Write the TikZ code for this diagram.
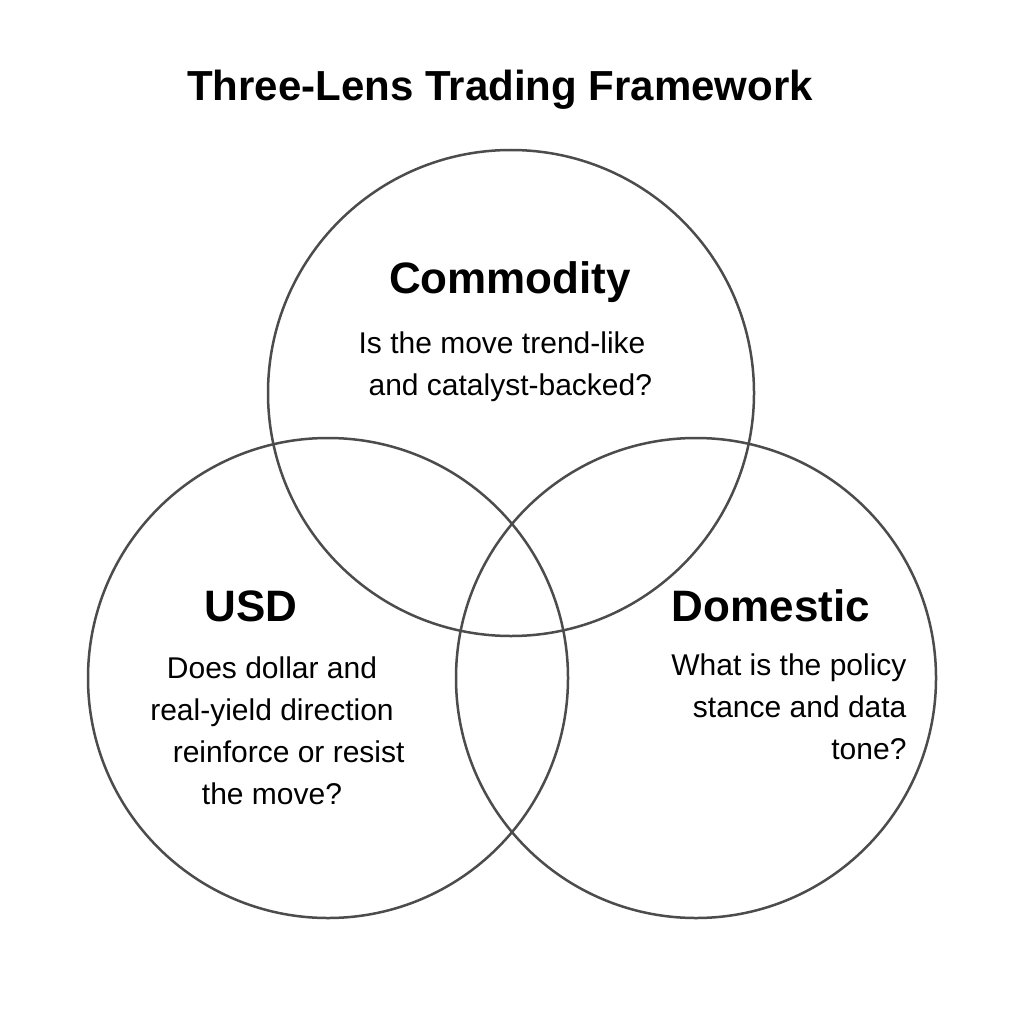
\documentclass[tikz,border=0pt]{standalone}
\usepackage{fontspec}
\setmainfont{Liberation Sans}
\begin{document}
\begin{tikzpicture}[x=1pt,y=-1pt,
  lens/.style={draw=black!70,line width=2.5pt},
  head/.style={font=\fontsize{44}{50}\selectfont\bfseries},
  body/.style={font=\fontsize{30}{42}\selectfont}]
\useasboundingbox[fill=white] (0,0) rectangle (1024,1024);
\node[font=\fontsize{42}{48}\selectfont\bfseries] (title) at (500,90) {Three-Lens Trading Framework};
\draw[lens] (511,393) circle (243) node (ctop) {};
\draw[lens] (328,678) circle (240) node (cleft) {};
\draw[lens] (696,678) circle (240) node (cright) {};
\node[head] (hc) at (510,282) {Commodity};
\node[body,align=center] (qc) at (502,367) {Is the move trend-like\\ \ \ and catalyst-backed?};
\node[head] (hu) at (251,606) {USD};
\node[body,align=center] (qu) at (272,731) {Does dollar and\\real-yield direction\\ \ \ \ \ reinforce or resist\\the move?};
\node[head] (hd) at (771,606) {Domestic};
\node[body,align=right,anchor=north east] (qd) at (910,650) {What is the policy\\stance and data\\tone?};
\end{tikzpicture}
\end{document}
